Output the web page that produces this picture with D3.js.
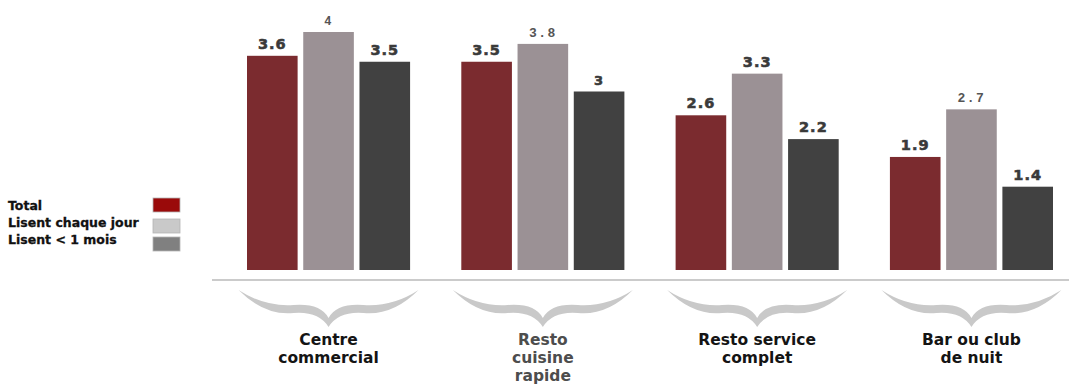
<!DOCTYPE html>
<html>
<head>
<meta charset="utf-8">
<script src="https://cdn.jsdelivr.net/npm/d3@7"></script>
<style>
  html, body { margin: 0; padding: 0; background: #fff; }
  svg { display: block; }
</style>
</head>
<body>
<div class="barchart"></div>
<script>
// chart data
const categories = [
  ["Centre", "commercial"],
  ["Resto", "cuisine", "rapide"],
  ["Resto service", "complet"],
  ["Bar ou club", "de nuit"]
];
const seriesNames = ["Total", "Lisent chaque jour", "Lisent < 1 mois"];
const totalValues = [3.6, 3.5, 2.6, 1.9];
const dailyValues = [4, 3.8, 3.3, 2.7];
const monthValues = [3.5, 3, 2.2, 1.4];
const valueLabels = [
  ["3.6", "4", "3.5"],
  ["3.5", "3.8", "3"],
  ["2.6", "3.3", "2.2"],
  ["1.9", "2.7", "1.4"]
];

const width = 1069, height = 385;
const barColors = ["#7b2b2f", "#9b9195", "#414141"];
const swatchColors = ["#9a0a0a", "#c9c9c9", "#808080"];
// labels that were typed in a lighter, typewriter-like face in the original
const lightLabels = ["0-1", "1-1", "3-1"];

const svg = d3
  .select(".barchart")
  .append("svg")
  .attr("width", width)
  .attr("height", height)
  .style("font-family", "'DejaVu Sans', Arial, sans-serif");

const series = [totalValues, dailyValues, monthValues];
const rows = categories.map((c, i) => ({
  name: c,
  values: series.map((s, j) => ({ key: seriesNames[j], value: s[i], label: valueLabels[i][j], id: i + "-" + j }))
}));

// scales
const x0 = d3
  .scaleBand()
  .domain(d3.range(categories.length))
  .range([247, 1053])
  .paddingInner(0.239)
  .paddingOuter(0);

const x1 = d3
  .scaleBand()
  .domain(seriesNames)
  .range([0, x0.bandwidth()])
  .paddingInner(0.1);

const y = d3.scaleLinear().domain([0, 4]).range([270, 32]);

// baseline
svg
  .append("line")
  .attr("x1", 212)
  .attr("x2", width)
  .attr("y1", 280)
  .attr("y2", 280)
  .attr("stroke", "#cbcbcb")
  .attr("stroke-width", 2);

const groups = svg
  .selectAll(".group")
  .data(rows)
  .enter()
  .append("g")
  .attr("class", "group")
  .attr("transform", (d, i) => `translate(${x0(i)},0)`);

groups
  .selectAll("rect")
  .data((d) => d.values)
  .enter()
  .append("rect")
  .attr("x", (d) => x1(d.key))
  .attr("y", (d) => y(d.value))
  .attr("width", x1.bandwidth())
  .attr("height", (d) => y(0) - y(d.value))
  .attr("fill", (d, j) => barColors[j]);

// value labels
groups
  .selectAll(".val")
  .data((d) => d.values)
  .enter()
  .append("text")
  .attr("class", "val")
  .attr("x", (d) => x1(d.key) + x1.bandwidth() / 2)
  .attr("y", (d) => y(d.value) - 7)
  .attr("text-anchor", "middle")
  .each(function (d) {
    const t = d3.select(this);
    if (lightLabels.includes(d.id)) {
      t.style("font-family", "'Liberation Mono', 'DejaVu Sans Mono', monospace")
        .style("font-weight", "bold")
        .style("font-size", d.label.length === 1 ? "12px" : "13px")
        .style("letter-spacing", "1.5px")
        .attr("fill", "#555");
    } else {
      t.style("font-weight", "bold")
        .style("font-size", d.label.length === 1 ? "13px" : "14.5px")
        .style("letter-spacing", "1px")
        .attr("fill", "#3a3a3a")
        .attr("stroke", "#3a3a3a")
        .attr("stroke-width", 0.6);
    }
  })
  .text((d) => d.label);

// curly braces under each group
function brace(cx) {
  return `M${cx - 90},290 Q${cx - 64},307 ${cx - 35},305 Q${cx - 8},303 ${cx},318 ` +
    `Q${cx + 8},303 ${cx + 35},305 Q${cx + 64},307 ${cx + 90},290 ` +
    `Q${cx + 64},316 ${cx + 35},313 Q${cx + 10},311 ${cx},327 ` +
    `Q${cx - 10},311 ${cx - 35},313 Q${cx - 64},316 ${cx - 90},290 Z`;
}

svg
  .selectAll(".brace")
  .data(rows)
  .enter()
  .append("path")
  .attr("class", "brace")
  .attr("d", (d, i) => brace(x0(i) + x0.bandwidth() / 2))
  .attr("fill", "#c9c9c9");

// category labels
const catText = svg
  .selectAll(".cat")
  .data(rows)
  .enter()
  .append("text")
  .attr("class", "cat")
  .attr("text-anchor", "middle")
  .style("font-weight", "bold")
  .style("font-size", "15.5px")
  .attr("fill", (d, i) => (i === 1 ? "#4d4d4d" : "#141414"));

catText
  .selectAll("tspan")
  .data((d, i) => d.name.map((line) => ({ line, cx: x0(i) + x0.bandwidth() / 2 })))
  .enter()
  .append("tspan")
  .attr("x", (d) => d.cx)
  .attr("y", (d, k) => 345 + k * 18)
  .text((d) => d.line);

// legend
const legend = svg.append("g").attr("class", "legend");
const legendY = [210, 227, 244];
const swatchY = [198, 219, 237];

legend
  .selectAll("text")
  .data(seriesNames)
  .enter()
  .append("text")
  .attr("x", 8)
  .attr("y", (d, i) => legendY[i])
  .style("font-weight", "bold")
  .style("font-size", "12.5px")
  .attr("fill", "#111")
  .attr("stroke", "#111")
  .attr("stroke-width", 0.3)
  .text((d) => d);

legend
  .selectAll("rect")
  .data(seriesNames)
  .enter()
  .append("rect")
  .attr("x", 153)
  .attr("y", (d, i) => swatchY[i])
  .attr("width", 27)
  .attr("height", 14)
  .attr("fill", (d, i) => swatchColors[i])
  .attr("stroke", "#b5b5b5")
  .attr("stroke-width", 0.8);
</script>
</body>
</html>
